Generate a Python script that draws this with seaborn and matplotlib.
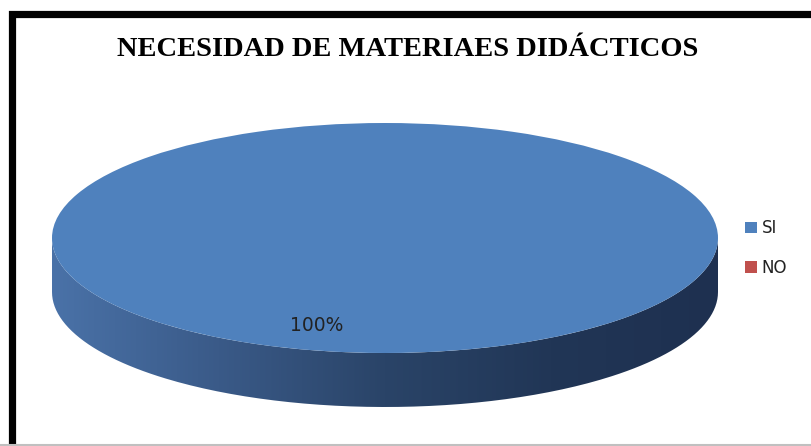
import numpy as np
import matplotlib
matplotlib.use("Agg")
import matplotlib.pyplot as plt
import seaborn as sns
from matplotlib.path import Path
from matplotlib.patches import PathPatch, Rectangle
from matplotlib.colors import LinearSegmentedColormap
from matplotlib.lines import Line2D

# data
titulo = "NECESIDAD DE MATERIAES DIDÁCTICOS"
categorias = ["SI", "NO"]
valores = [100, 0]
colores = ["#4f81bd", "#c0504d"]

sns.set_theme(style="white")
plt.rcParams['font.family'] = ['DejaVu Sans']

W, H = 811, 446
fig = plt.figure(figsize=(W / 100, H / 100), dpi=100)
fig.patch.set_facecolor("white")

# pie geometry in pixels (ellipse centre, radii, thickness)
cx, cy, rx, ry, depth = 385, 238, 333, 115, 54
d = depth / ry
ax = fig.add_axes([(cx - rx) / W, (H - (cy + ry + depth)) / H,
                   2 * rx / W, (2 * ry + depth) / H])

# side of the "3D" pie: gradient clipped to the cylinder wall
t = np.linspace(np.pi, 2 * np.pi, 200)
xs = np.concatenate([np.cos(t), np.cos(t[::-1])])
ys = np.concatenate([np.sin(t) - d, np.sin(t[::-1])])
wall = PathPatch(Path(np.column_stack([xs, ys])), facecolor="none",
                 edgecolor="none")
ax.add_patch(wall)
cmap = LinearSegmentedColormap.from_list(
    "lado", ["#4a72a8", "#3a5a88", "#2a4468", "#213656", "#1e3050"])
grad = ax.imshow(np.linspace(0, 1, 256)[None, :], cmap=cmap, aspect="auto",
                 extent=[-1, 1, -1 - d, 0], zorder=1)
grad.set_clip_path(wall)


def etiqueta(pct):
    return "{:.0f}%".format(pct) if pct >= 1 else ""


wedges, textos, autotextos = ax.pie(
    valores, colors=colores, startangle=75, autopct=etiqueta,
    pctdistance=0.79, wedgeprops=dict(linewidth=0),
    textprops=dict(fontsize=13.5, color="#222222"))
for w in wedges:
    w.set_zorder(2)
    w.set_clip_on(False)
for tx in autotextos:
    tx.set_zorder(3)

ax.set_aspect("auto")
ax.set_xlim(-1, 1)
ax.set_ylim(-1 - d, 1)
ax.axis("off")

fig.legend(wedges, categorias, loc="center left",
           bbox_to_anchor=(730 / W, (H - 248) / H), frameon=False,
           handlelength=0.7, handleheight=0.7, handletextpad=0.3,
           labelspacing=1.3, fontsize=12, labelcolor="#222222")

fig.text(408 / W, (H - 50) / H, titulo, ha="center", va="center",
         fontsize=20.5, fontweight="bold", family="Liberation Serif",
         color="black")

# outer frame like the original screenshot
fig.add_artist(Rectangle((11.5 / W, -0.2), 1.2, (H - 13.5) / H + 0.2,
                         transform=fig.transFigure, fill=False,
                         edgecolor="black", linewidth=5.2))
fig.add_artist(Line2D([0, 1], [1.5 / H, 1.5 / H], transform=fig.transFigure,
                      color="#c0c0c0", linewidth=1.5))

fig.savefig("out.png", dpi=100)
